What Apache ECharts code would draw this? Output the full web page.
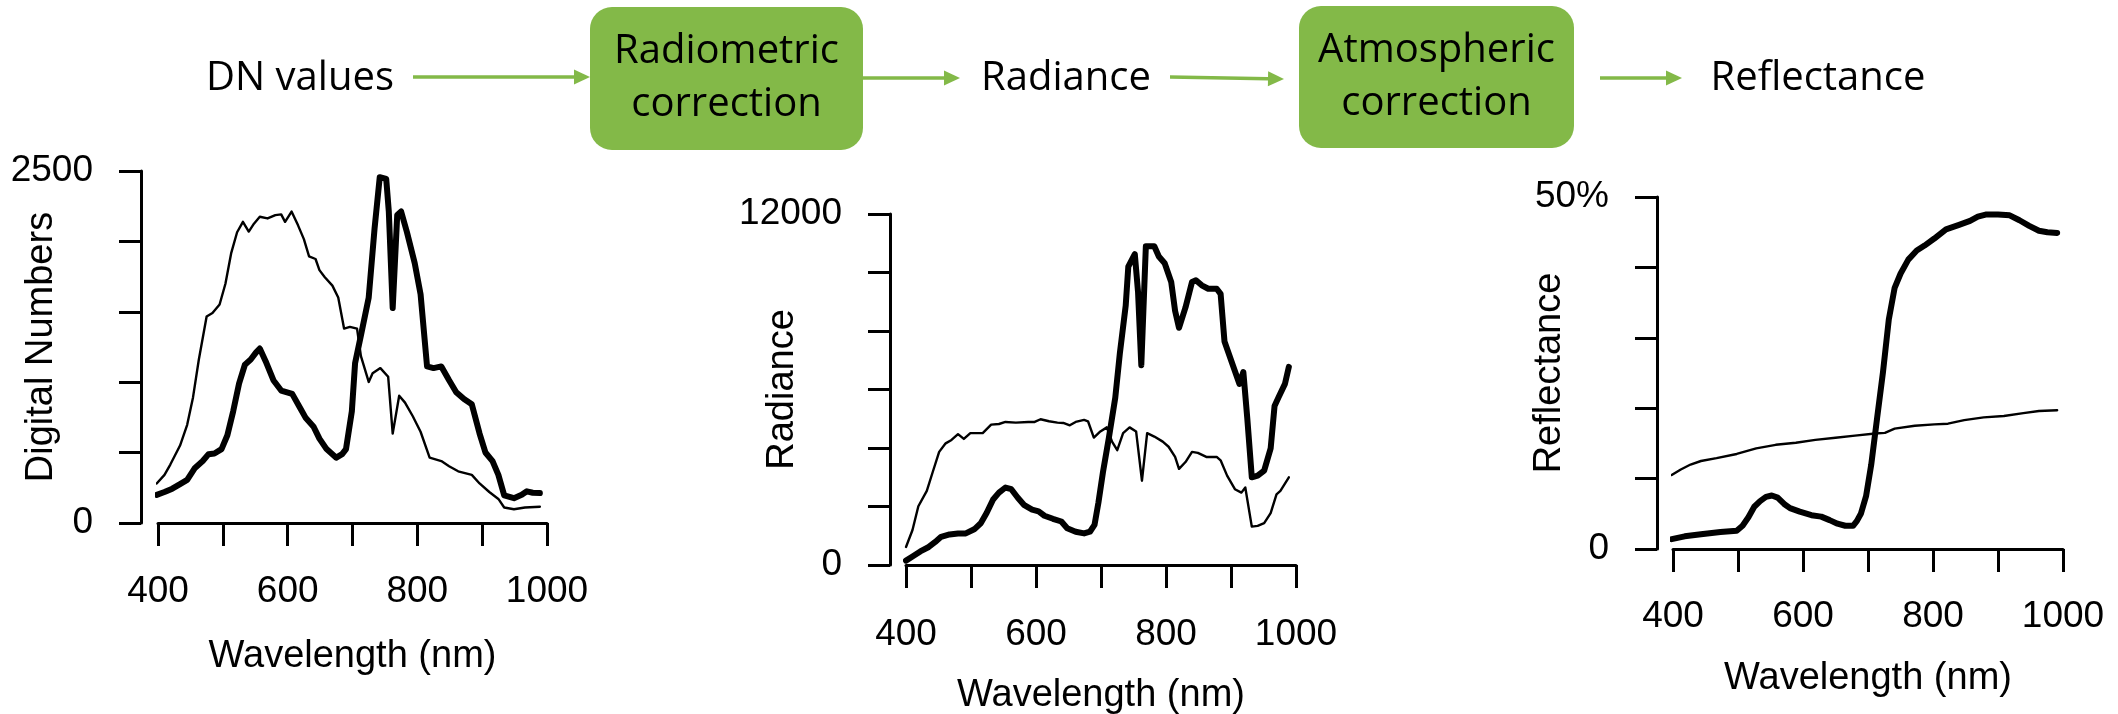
<!DOCTYPE html>
<html>
<head>
<meta charset="utf-8">
<script src="https://cdn.jsdelivr.net/npm/echarts@6/dist/echarts.min.js"></script>
<style>
html,body{margin:0;padding:0;background:#fff;}
#c{width:2118px;height:714px;}
</style>
</head>
<body>
<div id="c"></div>
<script>
// ---------- data ----------
const flowSteps = ['DN values', 'Radiometric\ncorrection', 'Radiance', 'Atmospheric\ncorrection', 'Reflectance'];
const xTickLabels = [400, 600, 800, 1000];
const yTitles = ['Digital Numbers', 'Radiance', 'Reflectance'];
const xTitle = 'Wavelength (nm)';

// Chart 1: Digital Numbers
const dnThinWl  = [398,410,419,434,445,454,463,475,484,495,504,513,522,531,540,548,557,569,581,590,596,606,616,625,633,643,649,657,669,678,687,696,707,713,725,731,743,755,762,772,781,793,805,819,837,849,863,884,896,911,925,934,949,966,989];
const dnThinVal = [281,342,415,550,697,892,1161,1466,1491,1552,1699,1919,2065,2139,2070,2126,2175,2163,2187,2192,2139,2212,2114,2016,1894,1875,1796,1747,1686,1601,1381,1393,1381,1185,1002,1063,1100,1039,635,904,855,758,648,464,440,403,367,342,281,220,171,110,98,110,115];
const dnThickWl  = [398,410,422,434,445,457,469,478,487,498,507,516,525,534,543,551,557,566,578,590,607,619,628,640,649,660,675,684,690,699,704,713,725,734,742,752,756,762,769,775,784,796,805,815,825,837,849,860,872,884,896,905,916,925,934,949,961,969,978,989];
const dnThickVal = [200,220,244,276,306,391,440,489,494,525,623,794,990,1124,1161,1210,1239,1149,1014,941,917,819,745,684,599,525,464,489,525,794,1136,1332,1601,2090,2456,2444,2212,1527,2188,2212,2065,1845,1625,1112,1100,1112,1014,929,880,843,635,501,440,342,196,176,200,225,215,213];

// Chart 2: Radiance
const radThinWl  = [400,410,419,432,441,451,461,470,480,489,499,518,531,543,553,569,588,598,607,620,633,642,652,661,674,680,689,699,709,717,725,734,744,754,763,771,782,795,804,814,820,830,840,849,862,878,884,894,906,916,922,932,941,951,961,970,976,989];
const radThinVal = [616,1197,2010,2533,3171,3868,4159,4275,4473,4310,4507,4507,4798,4821,4891,4868,4891,4891,4984,4914,4868,4856,4775,4891,4961,4914,4356,4565,4705,4217,3927,4507,4705,4565,2881,4507,4391,4217,4043,3694,3288,3520,3868,3834,3694,3694,3578,3055,2591,2474,2649,1313,1336,1429,1777,2416,2533,2997];
const radThickWl  = [400,410,422,435,445,454,467,480,492,505,515,524,534,543,553,562,572,582,594,604,613,626,639,648,661,674,683,690,696,703,712,722,729,738,742,752,757,762,769,782,789,798,808,814,820,830,840,846,855,865,878,884,890,900,913,919,925,932,941,951,961,967,973,983,989];
const radThickVal = [151,290,465,616,790,964,1046,1080,1080,1220,1429,1777,2242,2474,2649,2591,2300,2045,1894,1835,1684,1580,1487,1255,1138,1080,1138,1371,2126,3171,4333,5727,7237,8864,10200,10630,9328,6831,10897,10897,10548,10316,9677,8690,8109,8806,9677,9735,9561,9444,9444,9270,7644,7005,6192,6598,5030,2997,3055,3229,3985,5437,5727,6192,6773];

// Chart 3: Reflectance (%)
const refThinWl  = [398,412,427,443,467,498,528,558,589,619,650,680,711,726,741,772,802,823,848,878,909,939,963,991];
const refThinVal = [10.5,11.3,12.0,12.5,12.9,13.5,14.3,14.8,15.1,15.5,15.8,16.1,16.4,16.5,17.1,17.5,17.7,17.8,18.3,18.7,18.9,19.3,19.6,19.7];
const refThickWl  = [398,418,443,473,498,507,516,525,534,543,552,561,571,580,595,613,628,641,653,665,677,683,689,697,705,714,723,732,741,750,762,775,787,802,820,839,857,869,881,900,918,933,948,963,976,991];
const refThickVal = [1.4,1.8,2.1,2.4,2.6,3.3,4.5,6.0,6.8,7.4,7.6,7.3,6.4,5.8,5.3,4.8,4.6,4.1,3.6,3.3,3.3,4.0,5.0,7.5,12.0,18.6,25.1,32.6,37.1,39.1,41.1,42.4,43.1,44.1,45.4,46.0,46.6,47.2,47.5,47.5,47.4,46.7,45.9,45.2,45.0,44.9];

// ---------- helpers ----------
function pairs(xs, ys) { return xs.map((x, i) => [x, ys[i]]); }

const axisFont = 'Liberation Sans, Arial, sans-serif';
const flowFont = '"Open Sans", "Noto Sans", sans-serif';
const green = '#83b948';
const black = '#000';

const grids = [
  {left: 158, top: 171, width: 389, height: 352},
  {left: 906, top: 214, width: 390, height: 351},
  {left: 1673, top: 197, width: 390, height: 352}
];
const xOffsets = [14, 15, 13];
const yOffsets = [17, 16, 16];
const xNameGaps = [101, 97, 98];
const yNameGaps = [80, 88, 88];
const yMax = [2500, 12000, 50];
const yInt = [500, 2000, 10];
const yTopLabel = ['2500', '12000', '50%'];

const xAxes = grids.map((g, i) => ({
  type: 'value', gridIndex: i, min: 400, max: 1000, interval: 100,
  offset: xOffsets[i],
  name: xTitle, nameLocation: 'middle', nameGap: xNameGaps[i], nameMoveOverlap: false,
  nameTextStyle: {fontFamily: axisFont, fontSize: 38, color: black},
  axisLine: {show: true, lineStyle: {color: black, width: 3}},
  axisTick: {show: true, inside: false, length: 23, lineStyle: {color: black, width: 3}},
  splitLine: {show: false},
  axisLabel: {
    show: true, margin: 36, fontFamily: axisFont, fontSize: 37, color: black,
    hideOverlap: false,
    formatter: v => xTickLabels.indexOf(v) >= 0 ? String(v) : ''
  }
}));

const yAxes = grids.map((g, i) => ({
  type: 'value', gridIndex: i, min: 0, max: yMax[i], interval: yInt[i],
  offset: yOffsets[i],
  name: yTitles[i], nameLocation: 'middle', nameGap: yNameGaps[i], nameRotate: 90, nameMoveOverlap: false,
  nameTextStyle: {fontFamily: axisFont, fontSize: 38, color: black},
  axisLine: {show: true, lineStyle: {color: black, width: 3}},
  axisTick: {show: true, inside: false, length: 22, lineStyle: {color: black, width: 3}},
  splitLine: {show: false},
  axisLabel: {
    show: true, margin: 48, fontFamily: axisFont, fontSize: 37, color: black,
    hideOverlap: false,
    formatter: v => v === 0 ? '0' : (v === yMax[i] ? yTopLabel[i] : '')
  }
}));

function lineSeries(idx, xs, ys, w) {
  return {
    type: 'line', xAxisIndex: idx, yAxisIndex: idx,
    data: pairs(xs, ys), showSymbol: false, symbol: 'none', smooth: false,
    animation: false, silent: true,
    lineStyle: {color: black, width: w, join: 'round', cap: 'round'}
  };
}

const series = [
  lineSeries(0, dnThinWl, dnThinVal, 2.4),
  lineSeries(0, dnThickWl, dnThickVal, 6),
  lineSeries(1, radThinWl, radThinVal, 2.4),
  lineSeries(1, radThickWl, radThickVal, 6),
  lineSeries(2, refThinWl, refThinVal, 2.4),
  lineSeries(2, refThickWl, refThickVal, 6)
];

// ---------- flow diagram ----------
function arrow(x1, y1, x2, y2) {
  const L = 16, H = 7.5;
  const ang = Math.atan2(y2 - y1, x2 - x1);
  const bx = x2 - L * Math.cos(ang), by = y2 - L * Math.sin(ang);
  const nx = -Math.sin(ang), ny = Math.cos(ang);
  return [
    {type: 'line', shape: {x1: x1, y1: y1, x2: bx, y2: by}, style: {stroke: green, lineWidth: 3.5}},
    {type: 'polygon', shape: {points: [[bx + nx * H, by + ny * H], [x2, y2], [bx - nx * H, by - ny * H]]}, style: {fill: green}}
  ];
}
function label(text, cx, cy) {
  return {type: 'text', x: cx, y: cy, style: {
    text: text, fill: black, font: '40px ' + flowFont, fontSize: 40, fontFamily: flowFont,
    align: 'center', verticalAlign: 'middle', textAlign: 'center', textVerticalAlign: 'middle', lineHeight: 53
  }};
}
function box(x, y, w, h) {
  return {type: 'rect', shape: {x: x, y: y, width: w, height: h, r: 22}, style: {fill: green}};
}

const graphics = [].concat(
  [label(flowSteps[0], 300, 79)],
  arrow(413, 77, 590, 77),
  [box(590, 7, 273, 143), label(flowSteps[1], 726.5, 78)],
  arrow(863, 78, 960, 78),
  [label(flowSteps[2], 1066, 79)],
  arrow(1170, 77, 1284, 79),
  [box(1299, 6, 275, 142), label(flowSteps[3], 1436.5, 77)],
  arrow(1600, 78, 1682, 78),
  [label(flowSteps[4], 1818, 79)]
);

const chart = echarts.init(document.getElementById('c'), null, {renderer: 'canvas'});
chart.setOption({
  animation: false,
  backgroundColor: '#fff',
  grid: grids.map(g => Object.assign({containLabel: false, outerBoundsMode: 'none'}, g)),
  xAxis: xAxes,
  yAxis: yAxes,
  series: series,
  graphic: graphics
});
</script>
</body>
</html>
